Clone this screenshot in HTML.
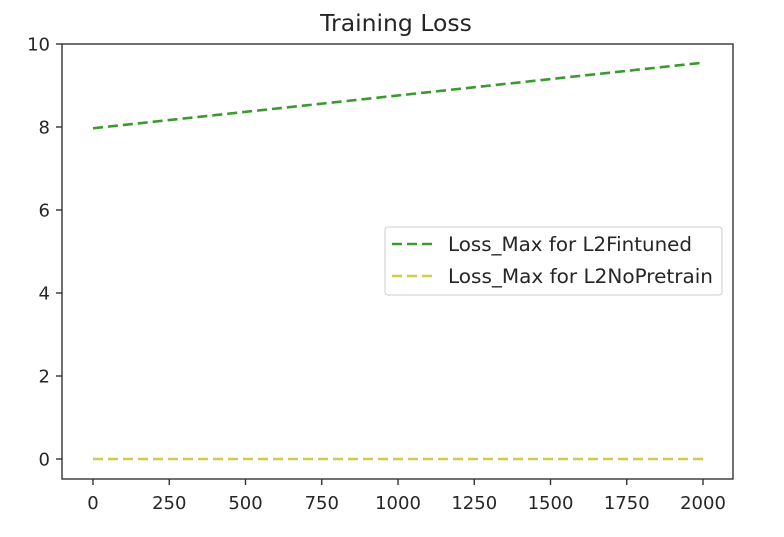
<!DOCTYPE html>
<html><head><meta charset="utf-8"><style>
body{margin:0;background:#fff;width:784px;height:532px;overflow:hidden}
text{font-family:"DejaVu Sans","Liberation Sans",sans-serif;fill:#262626}
</style></head><body>
<svg id="chart" width="784" height="532" xmlns="http://www.w3.org/2000/svg"></svg>
<script>
const xTicks=[0,250,500,750,1000,1250,1500,1750,2000];
const yTicks=[0,2,4,6,8,10];
const stepsX=[0,2000];
const fintuned=[7.97,9.55];
const noPretrain=[0,0];
const seriesNames=["Loss_Max for L2Fintuned","Loss_Max for L2NoPretrain"];

const svg=document.getElementById('chart');
const NS='http://www.w3.org/2000/svg';
const L=62,R=733,T=44,B=479;
const sx=v=>93+v*(703-93)/2000;
const sy=v=>459-v*41.5;
function mk(tag,attrs,parent){const e=document.createElementNS(NS,tag);for(const k in attrs)e.setAttribute(k,attrs[k]);(parent||svg).appendChild(e);return e;}

const title=mk('text',{x:396,y:31,'text-anchor':'middle','font-size':23.5});
title.textContent='Training Loss';



xTicks.forEach(v=>{
  const t=mk('line',{x1:sx(v),x2:sx(v),y1:B,y2:B+6,stroke:'#333','stroke-width':1.4});
  
  
  const l=mk('text',{x:sx(v),y:B+30,'text-anchor':'middle','font-size':18});
  l.textContent=v;
  
  
});
yTicks.forEach(v=>{
  const t=mk('line',{x1:L-6,x2:L,y1:sy(v),y2:sy(v),stroke:'#333','stroke-width':1.4});
  
  
  const l=mk('text',{x:L-12,y:sy(v)+6.5,'text-anchor':'end','font-size':18});
  l.textContent=v;
  
  
});

function series(xs,ys,color,name){
  const p=mk('polyline',{points:xs.map((x,i)=>sx(x)+','+sy(ys[i])).join(' '),fill:'none',stroke:color,'stroke-width':2.6,'stroke-dasharray':'10,5'});
  
  
}
series(stepsX,fintuned,'#3a9a2e','line-l2fintuned');
series(stepsX,noPretrain,'#cfcc4a','line-l2nopretrain');

const frame=mk('rect',{x:L,y:T,width:R-L,height:B-T,fill:'none',stroke:'#333','stroke-width':1.4});



const lg=mk('g',{});


mk('rect',{x:385,y:227,width:337,height:68,rx:3,fill:'#fff',stroke:'#ccc','stroke-width':1},lg);
const cols=['#3a9a2e','#cfcc4a'];
seriesNames.forEach((n,i)=>{
  const y=244+i*32;
  const ln=mk('line',{x1:392,x2:432,y1:y,y2:y,stroke:cols[i],'stroke-width':2.6,'stroke-dasharray':'10,5'},lg);
  
  
  const t=mk('text',{x:448,y:y+7,'font-size':19.5,textLength:i?265:244,lengthAdjust:'spacingAndGlyphs'},lg);
  t.textContent=n;
  
  
});
</script>
</body></html>
